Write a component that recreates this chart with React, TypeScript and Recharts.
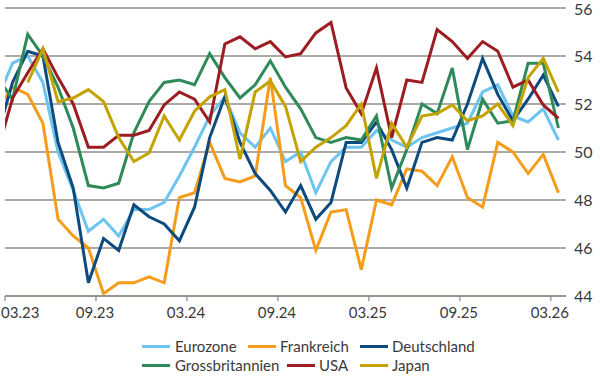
import React from 'react';
import { LineChart, Line, XAxis, YAxis, CartesianGrid } from 'recharts';

const months = [
  '02.23', '03.23', '04.23', '05.23', '06.23', '07.23', '08.23', '09.23', '10.23', '11.23', '12.23',
  '01.24', '02.24', '03.24', '04.24', '05.24', '06.24', '07.24', '08.24', '09.24', '10.24', '11.24', '12.24',
  '01.25', '02.25', '03.25', '04.25', '05.25', '06.25', '07.25', '08.25', '09.25', '10.25', '11.25', '12.25',
  '01.26', '02.26', '03.26',
];

const eurozone = [52.2, 53.7, 54.0, 52.9, 50.0, 48.4, 46.7, 47.2, 46.5, 47.6, 47.6, 47.9, 49.0, 50.2, 51.5, 52.3, 50.8, 50.2, 51.0, 49.6, 50.0, 48.3, 49.6, 50.2, 50.2, 50.9, 50.5, 50.2, 50.6, 50.8, 51.0, 51.2, 52.5, 52.8, 51.5, 51.25, 51.8, 50.5];
const frankreich = [51.8, 52.7, 52.4, 51.2, 47.2, 46.5, 46.0, 44.1, 44.55, 44.55, 44.8, 44.55, 48.1, 48.3, 50.4, 48.9, 48.75, 49.0, 53.1, 48.6, 48.1, 45.9, 47.5, 47.6, 45.1, 48.0, 47.8, 49.3, 49.2, 48.6, 49.8, 48.1, 47.7, 50.4, 50.0, 49.1, 49.9, 48.3];
const deutschland = [50.7, 52.9, 54.2, 54.0, 50.4, 48.5, 44.55, 46.4, 45.9, 47.8, 47.3, 47.0, 46.3, 47.7, 50.6, 52.3, 50.4, 49.1, 48.4, 47.5, 48.6, 47.2, 47.9, 50.4, 50.4, 51.25, 50.1, 48.5, 50.4, 50.6, 50.5, 52.0, 53.9, 52.4, 51.3, 52.2, 53.2, 51.9];
const grossbritannien = [53.1, 52.2, 54.9, 54.0, 52.7, 51.0, 48.6, 48.5, 48.7, 50.8, 52.1, 52.9, 53.0, 52.8, 54.1, 53.1, 52.25, 52.8, 53.8, 52.7, 51.8, 50.6, 50.4, 50.6, 50.5, 51.5, 48.5, 50.1, 52.0, 51.6, 53.5, 50.1, 52.2, 51.2, 51.3, 53.7, 53.7, 51.0];
const usa = [50.0, 52.25, 53.3, 54.3, 53.1, 52.0, 50.2, 50.2, 50.7, 50.7, 50.9, 51.96, 52.5, 52.2, 51.25, 54.5, 54.8, 54.3, 54.6, 53.96, 54.1, 54.96, 55.4, 52.67, 51.6, 53.5, 50.6, 53.0, 52.9, 55.1, 54.6, 53.9, 54.6, 54.2, 52.7, 53.0, 51.96, 51.4];
const japan: (number | null)[] = [null, null, 52.9, 54.3, 52.1, 52.25, 52.6, 52.1, 50.6, 49.6, 49.96, 51.5, 50.5, 51.7, 52.3, 52.6, 49.7, 52.5, 52.96, 51.9, 49.6, 50.2, 50.6, 51.1, 52.0, 48.9, 51.2, 50.2, 51.5, 51.6, 51.96, 51.3, 51.5, 52.0, 51.1, 53.1, 53.9, 52.5];

const xTickLabels = ['03.23', '09.23', '03.24', '09.24', '03.25', '09.25', '03.26'];
const yTicks = [44, 46, 48, 50, 52, 54, 56];

const seriesNames = ['Eurozone', 'Frankreich', 'Deutschland', 'Grossbritannien', 'USA', 'Japan'];
const seriesValues = [eurozone, frankreich, deutschland, grossbritannien, usa, japan];
const seriesColors = ['#6cc4ef', '#f59c1a', '#0d4a7e', '#2f8a5a', '#9c1c22', '#c4a300'];

// legend layout: [swatchLeft, swatchWidth, textLeft, top]
const legendLayout = [
  [142, 28, 175, 346],
  [248, 28, 280, 346],
  [360, 28, 392, 346],
  [142, 28, 175, 365],
  [287, 28, 319, 365],
  [360, 28, 392, 365],
];

const data = months.map((m, i) => {
  const row: Record<string, number | string | null> = { t: i, month: m };
  seriesNames.forEach((n, s) => {
    row[n] = seriesValues[s][i];
  });
  return row;
});

const xTicks = xTickLabels.map((l) => months.indexOf(l) - 0.5);

const FONT = 'Lato, "Noto Sans", sans-serif';
const GRID = '#8f8e86';

const XTick = (props: any) => {
  const { x, y, payload, index } = props;
  const label = months[Math.round(payload.value + 0.5)];
  const first = index === 0;
  return (
    <text
      x={first ? x - 4 : x - 1}
      y={y}
      dy={15}
      textAnchor={first ? 'start' : 'middle'}
      fontFamily={FONT}
      fontSize={15}
      fill="#3a3a3a"
    >
      {label}
    </text>
  );
};

export default function App() {
  return (
    <div style={{ position: 'absolute', left: 0, top: 0, width: 600, height: 380, background: '#fff', fontFamily: FONT }}>
      <LineChart width={600} height={330} data={data} margin={{ top: 8, right: 0, left: 5, bottom: 4 }}>
        <CartesianGrid horizontal vertical={false} stroke={GRID} strokeWidth={1.3} />
        <XAxis
          dataKey="t"
          type="number"
          domain={[0.5, 37.5]}
          ticks={xTicks}
          allowDataOverflow
          interval={0}
          height={30}
          axisLine={{ stroke: GRID, strokeWidth: 1.3 }}
          tickLine={{ stroke: GRID, strokeWidth: 1.3 }}
          tickSize={5}
          tickMargin={2}
          tick={<XTick />}
        />
        <YAxis
          orientation="right"
          domain={[44, 56]}
          ticks={yTicks}
          allowDataOverflow
          width={34}
          axisLine={false}
          tickLine={false}
          tick={{ fill: '#3a3a3a', fontSize: 16, fontFamily: FONT }}
        />
        {seriesNames.map((n, s) => (
          <Line
            key={n}
            dataKey={n}
            type="linear"
            stroke={seriesColors[s]}
            strokeWidth={3}
            dot={false}
            activeDot={false}
            isAnimationActive={false}
            connectNulls={false}
          />
        ))}
      </LineChart>
      {seriesNames.map((n, s) => {
        const [sl, sw, tl, top] = legendLayout[s];
        return (
          <React.Fragment key={n}>
            <div style={{ position: 'absolute', left: sl, top: top - 1.5, width: sw, height: 3, background: seriesColors[s] }} />
            <div style={{ position: 'absolute', left: tl, top: top - 10, height: 20, lineHeight: '20px', fontSize: 15, color: '#3a3a3a', fontFamily: FONT, whiteSpace: 'nowrap' }}>
              {n}
            </div>
          </React.Fragment>
        );
      })}
    </div>
  );
}
